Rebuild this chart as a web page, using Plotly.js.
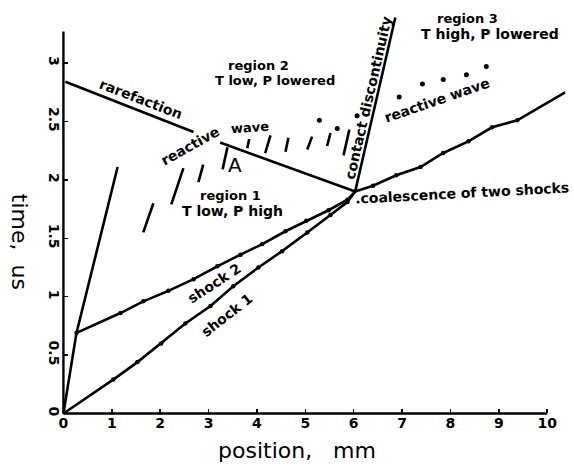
<!DOCTYPE html>
<html>
<head>
<meta charset="utf-8">
<script src="https://cdn.plot.ly/plotly-3.0.1.min.js"></script>
<style>html,body{margin:0;padding:0;background:#fff;}#chart{width:574px;height:467px;}</style>
</head>
<body>
<div id="chart"></div>
<script>
// ---- data (position in mm, time in us) ----
const pistonX = [0, 0.27, 1.12];
const pistonT = [0, 0.69, 2.11];

const shock1X = [0, 1.03, 1.53, 2.02, 2.52, 3.04, 3.51, 4.03, 4.52, 5.04, 5.52, 5.87, 6.03];
const shock1T = [0, 0.29, 0.44, 0.60, 0.77, 0.92, 1.09, 1.25, 1.39, 1.55, 1.70, 1.81, 1.90];

const shock2X = [0.27, 1.18, 1.65, 2.17, 2.69, 3.18, 3.66, 4.11, 4.59, 5.02, 5.48, 5.87, 6.03];
const shock2T = [0.69, 0.86, 0.96, 1.05, 1.15, 1.26, 1.36, 1.45, 1.56, 1.65, 1.74, 1.83, 1.90];

const mergedX = [6.03, 6.40, 6.88, 7.38, 7.85, 8.37, 8.86, 9.38, 10.37];
const mergedT = [1.90, 1.95, 2.04, 2.11, 2.23, 2.33, 2.45, 2.51, 2.75];

const rarefactionX = [0.04, 2.69];
const rarefactionT = [2.84, 2.41];

const frontX = [3.24, 6.03];
const frontT = [2.32, 1.90];

const contactX = [6.03, 6.86];
const contactT = [1.90, 3.39];

// short strokes of the reactive wave (top end / bottom end)
const strokeTopX = [1.86, 2.48, 2.89, 3.39, 3.84, 4.28, 4.65, 5.14, 5.52, 5.91];
const strokeTopT = [1.80, 2.10, 2.13, 2.28, 2.35, 2.38, 2.36, 2.37, 2.40, 2.43];
const strokeBotX = [1.65, 2.23, 2.79, 3.29, 3.80, 4.17, 4.59, 5.04, 5.45, 5.79];
const strokeBotT = [1.55, 1.79, 1.98, 2.09, 2.27, 2.23, 2.24, 2.26, 2.29, 2.21];

// dots of the reactive wave
const waveDotsX = [5.29, 5.66, 6.07, 6.94, 7.42, 7.85, 8.33, 8.74];
const waveDotsT = [2.51, 2.44, 2.55, 2.71, 2.82, 2.86, 2.90, 2.97];

const xTicks = [0, 1, 2, 3, 4, 5, 6, 7, 8, 9, 10];
const yTicks = [0, 0.5, 1, 1.5, 2, 2.5, 3];
const xAxisLineX = [0, 10];
const xAxisLineT = [0, 0];
const yAxisLineX = [0, 0];
const yAxisLineT = [0, 3.27];

// ---- build ----
const strokeX = [], strokeT = [];
for (let i = 0; i < strokeTopX.length; i++) {
  strokeX.push(strokeTopX[i], strokeBotX[i], null);
  strokeT.push(strokeTopT[i], strokeBotT[i], null);
}

const LW = 2.6;
const lineTrace = (x, y, w) => ({x, y, type: 'scatter', mode: 'lines', line: {color: '#000', width: w || LW}, hoverinfo: 'skip'});
const dotTrace = (x, y, s) => ({x, y, type: 'scatter', mode: 'markers', marker: {color: '#000', size: s || 4.5}, hoverinfo: 'skip'});

const traces = [
  lineTrace(xAxisLineX, xAxisLineT, 2.4),
  lineTrace(yAxisLineX, yAxisLineT, 2.4),
  lineTrace(pistonX, pistonT),
  lineTrace(shock1X, shock1T),
  dotTrace(shock1X.slice(1, -1), shock1T.slice(1, -1)),
  lineTrace(shock2X, shock2T),
  dotTrace(shock2X.slice(0, -1), shock2T.slice(0, -1)),
  lineTrace(mergedX, mergedT),
  dotTrace(mergedX.slice(1, -1), mergedT.slice(1, -1)),
  lineTrace(rarefactionX, rarefactionT),
  lineTrace(frontX, frontT),
  lineTrace(contactX, contactT),
  lineTrace(strokeX, strokeT, 2.6),
  dotTrace(waveDotsX, waveDotsT, 5)
];

const F = 'DejaVu Sans, sans-serif';
const ann = (text, x, y, size, angle, bold) => ({
  text: bold === false ? text : '<b>' + text + '</b>', x, y, xref: 'x', yref: 'y', showarrow: false,
  xanchor: 'center', yanchor: 'middle',
  textangle: angle || 0, font: {family: F, size: size, color: '#000'}
});

const annotations = [
  ann('region 2', 4.03, 2.98, 13),
  ann('T low, P lowered', 4.38, 2.85, 13),
  ann('region 3', 8.35, 3.38, 13),
  ann('T high, P lowered', 8.82, 3.25, 14),
  ann('region 1', 3.45, 1.87, 13),
  ann('T low, P high', 3.49, 1.73, 14),
  ann('A', 3.55, 2.13, 20, 0, false),
  ann('rarefaction', 1.60, 2.69, 14, 21),
  ann('reactive', 2.61, 2.29, 14, -29),
  ann('wave', 3.86, 2.45, 13, -4),
  ann('contact discontinuity', 6.30, 2.70, 14, -77),
  ann('reactive wave', 7.73, 2.68, 14, -19),
  ann('.coalescence of two shocks', 8.24, 1.89, 14, -3),
  ann('shock 2', 3.12, 1.12, 14, -33),
  ann('shock 1', 3.38, 0.84, 14, -38),
  {text: 'time,  us', xref: 'paper', yref: 'paper', x: -0.083, y: 0.435, showarrow: false,
   xanchor: 'center', yanchor: 'middle',
   textangle: 90, font: {family: F, size: 22, color: '#000'}},
  {text: 'position,   mm', xref: 'paper', yref: 'paper', x: 0.465, y: -0.082, showarrow: false,
   xanchor: 'center', yanchor: 'middle',
   font: {family: F, size: 22, color: '#000'}}
];

const layout = {
  width: 574, height: 467,
  margin: {l: 60.6, r: 5.2, t: 13.9, b: 49.5, pad: 0},
  paper_bgcolor: '#fff', plot_bgcolor: '#fff',
  showlegend: false,
  xaxis: {
    range: [-0.05, 10.45], anchor: 'free', position: 0.0087,
    tickvals: xTicks, ticks: 'inside', ticklen: 4, tickwidth: 1.5, tickcolor: '#000',
    showgrid: false, zeroline: false, showline: false,
    tickfont: {family: F, size: 14, color: '#000', weight: 'bold'}
  },
  yaxis: {
    range: [-0.03, 3.42], anchor: 'free', position: 0.0048,
    tickvals: yTicks, ticks: 'inside', ticklen: 4, tickwidth: 1.5, tickcolor: '#000',
    tickangle: 90,
    showgrid: false, zeroline: false, showline: false,
    tickfont: {family: F, size: 14, color: '#000', weight: 'bold'}
  },
  annotations
};

Plotly.newPlot('chart', traces, layout, {staticPlot: true, displayModeBar: false});
</script>
</body>
</html>
